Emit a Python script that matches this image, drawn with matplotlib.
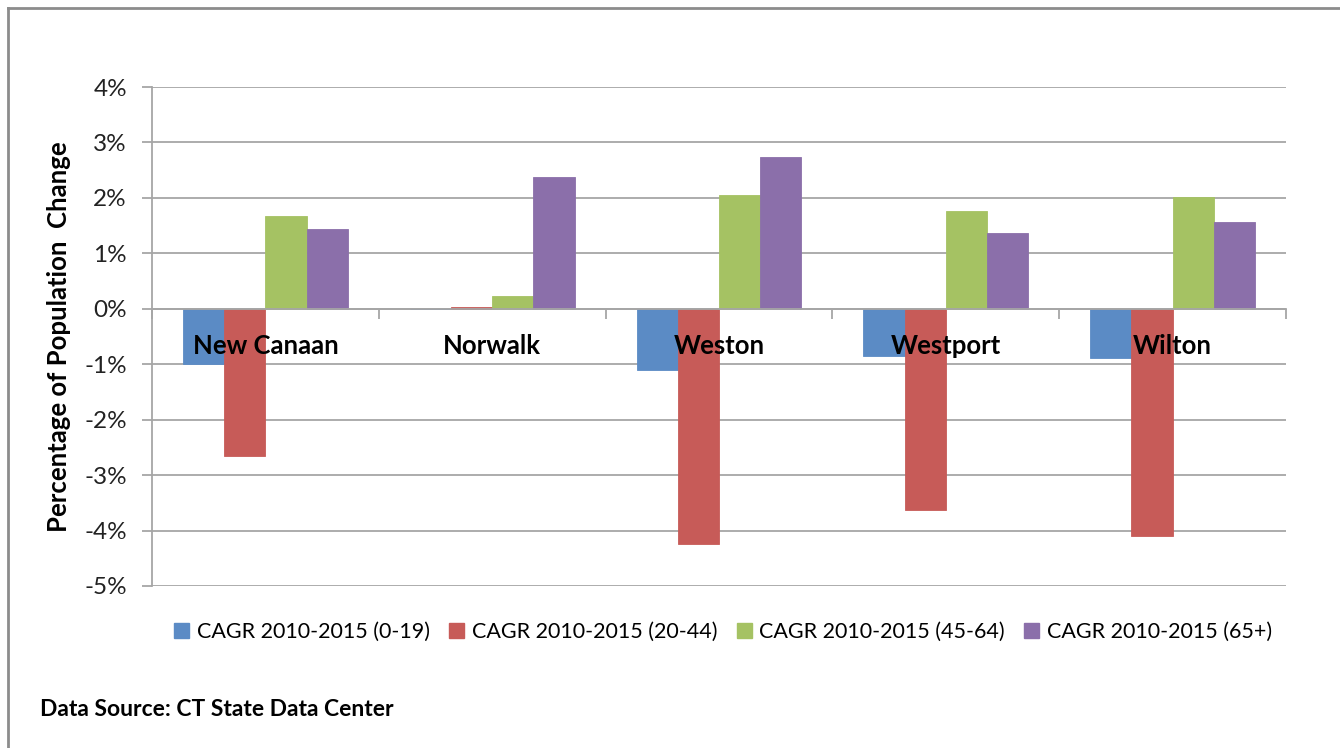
import matplotlib
matplotlib.use("Agg")
import matplotlib.pyplot as plt
import numpy as np
from matplotlib.patches import Patch
from matplotlib.lines import Line2D
from matplotlib.ticker import FuncFormatter, FixedLocator

categories = ["New Canaan", "Norwalk", "Weston", "Westport", "Wilton"]
series_names = ["CAGR 2010-2015 (0-19)", "CAGR 2010-2015 (20-44)",
                "CAGR 2010-2015 (45-64)", "CAGR 2010-2015 (65+)"]
age_0_19 = [-1.00, 0.00, -1.10, -0.86, -0.89]
age_20_44 = [-2.66, 0.03, -4.25, -3.63, -4.10]
age_45_64 = [1.68, 0.23, 2.05, 1.77, 2.02]
age_65_plus = [1.43, 2.37, 2.74, 1.37, 1.57]
y_ticks = [4, 3, 2, 1, 0, -1, -2, -3, -4, -5]

colors = ["#5B8BC5", "#C75B58", "#A5C263", "#8B6FAA"]
series = [age_0_19, age_20_44, age_45_64, age_65_plus]

W, H = 1340, 748
fig = plt.figure(figsize=(W / 100, H / 100), dpi=100)
plt.rcParams['font.family'] = ['Lato', 'DejaVu Sans']

grid_c = "#A6A6A6"
ax = fig.add_axes([152 / W, (H - 586) / H, (1286 - 152) / W, (586 - 87) / H])

n = len(series)
bw = 1 / (n + 1.5)
x = np.arange(len(categories))
for i, (vals, c) in enumerate(zip(series, colors)):
    ax.bar(x - 2 * bw + (i + 0.5) * bw, vals, width=bw, color=c,
           edgecolor=c, linewidth=0.6, zorder=3, label=series_names[i])

ax.set_xlim(-0.5, len(categories) - 0.5)
ax.set_ylim(-5, 4)
ax.yaxis.set_major_locator(FixedLocator(y_ticks))
ax.yaxis.set_major_formatter(FuncFormatter(lambda v, p: f"{int(round(v))}%"))
ax.grid(axis='y', color=grid_c, linewidth=1.3, zorder=0)
ax.set_axisbelow(True)

for s in ['top', 'right']:
    ax.spines[s].set_visible(False)
ax.spines['left'].set_color(grid_c)
ax.spines['left'].set_linewidth(1.3)
ax.spines['bottom'].set_position(('data', 0))
ax.spines['bottom'].set_color(grid_c)
ax.spines['bottom'].set_linewidth(1.3)
ax.spines['bottom'].set_zorder(4)

ax.tick_params(axis='y', length=7, color=grid_c, width=1.3, labelsize=17.5,
               pad=11, labelcolor="#222222")
ax.set_xticks(x)
ax.set_xticklabels(categories, fontweight='bold', fontsize=18.5)
ax.tick_params(axis='x', which='major', length=0, pad=18)
ax.set_xticks(np.arange(len(categories) + 1) - 0.5, minor=True)
ax.tick_params(axis='x', which='minor', length=7, color=grid_c, width=1.3,
               direction='out')
ax.xaxis.set_zorder(5)

ax.set_ylabel("Percentage of Population  Change", fontweight='bold',
              fontsize=18.5)
ax.yaxis.set_label_coords((71 - 152) / (1286 - 152), 0.5)

handles = [Patch(facecolor=c, edgecolor=c) for c in colors]
fig.legend(handles, series_names, loc='center', ncol=4,
           bbox_to_anchor=(723 / W, 1 - 632 / H), frameon=False,
           fontsize=15.5, handlelength=0.7, handleheight=0.7,
           handletextpad=0.35, columnspacing=0.9)

fig.text(40 / W, 1 - 710 / H, "Data Source: CT State Data Center",
         fontweight='bold', fontsize=16.5, va='center', ha='left')

# outer border (top and left)
fig.add_artist(Line2D([8 / W, 1.0], [1 - 8 / H, 1 - 8 / H],
                      transform=fig.transFigure, color="#8C8C8C", linewidth=2))
fig.add_artist(Line2D([8 / W, 8 / W], [0, 1 - 8 / H],
                      transform=fig.transFigure, color="#8C8C8C", linewidth=2))

fig.savefig("out.png", dpi=100, facecolor="white")
